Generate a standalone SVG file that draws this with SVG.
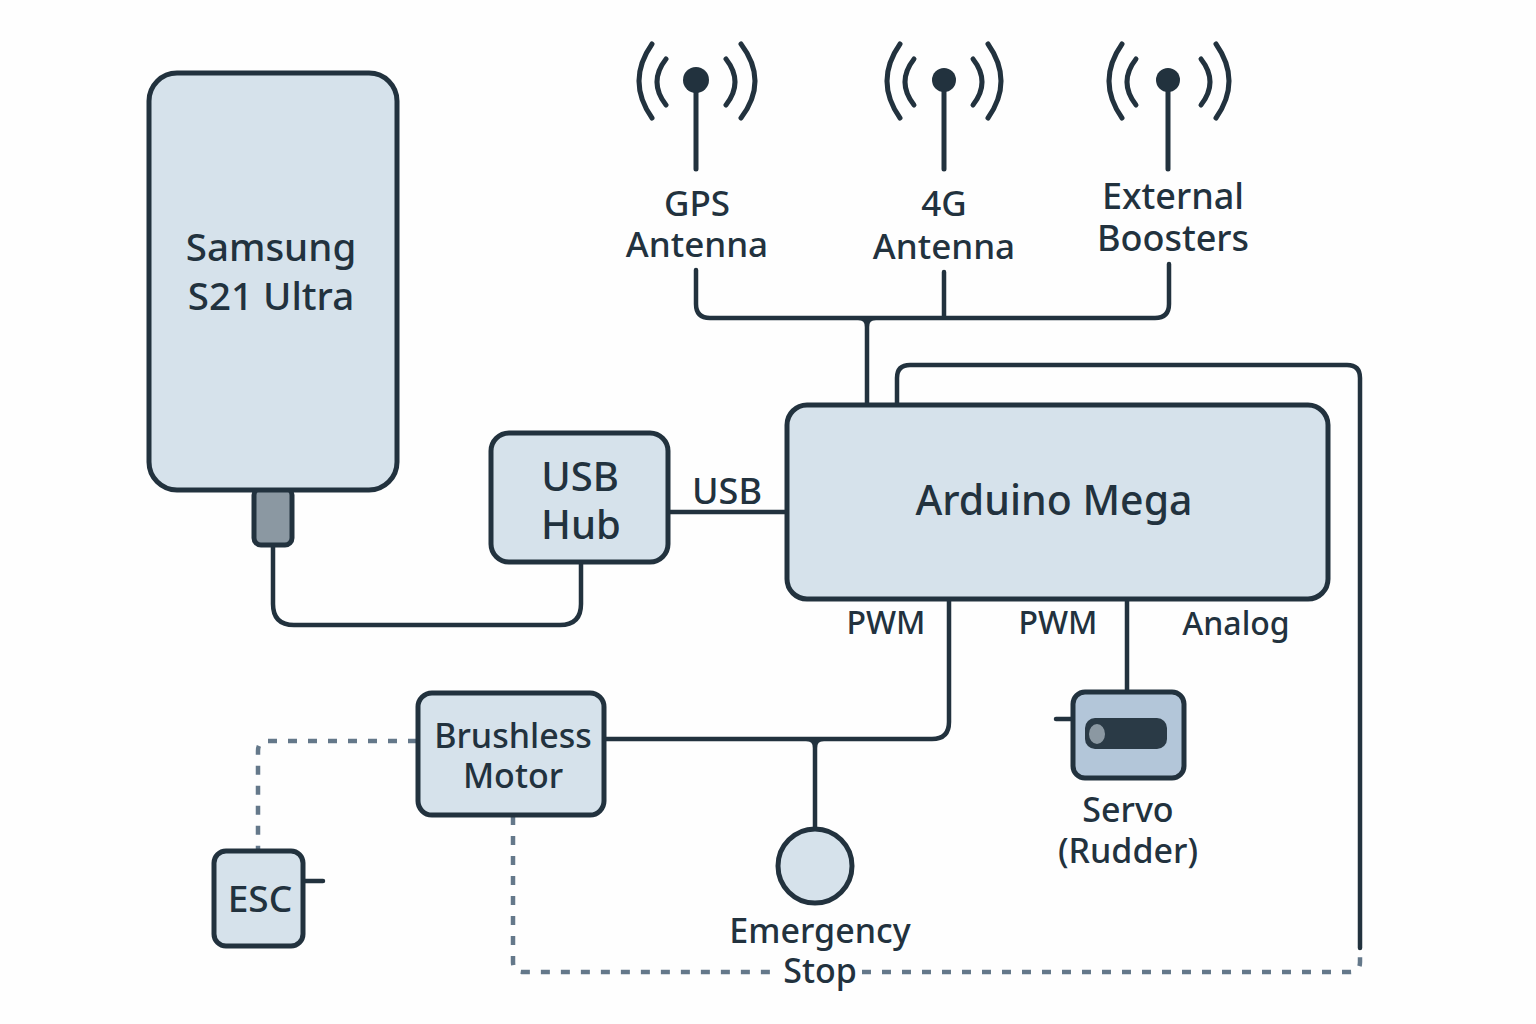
<svg xmlns="http://www.w3.org/2000/svg" width="1536" height="1024" viewBox="0 0 1536 1024">
<style>
.box{fill:#d6e2eb;stroke:#22323e;stroke-width:5}
.w{fill:none;stroke:#22323e;stroke-width:4.5;stroke-linecap:round;stroke-linejoin:round}
.f{fill:#22323e}
.a{fill:none;stroke:#22323e;stroke-width:5;stroke-linecap:round}
.d{fill:none;stroke:#64788a;stroke-width:4.5;stroke-dasharray:9 11}
text{font-family:"Noto Sans","Open Sans",sans-serif;font-weight:500;fill:#22323e;text-anchor:middle}
.l{font-size:35px}.m{font-size:34px}.s{font-size:32px}.b{font-size:38.5px}.h{font-size:40px}
</style>
<rect width="1536" height="1024" fill="#fefefe"/>
<g id="connectors">
<path class="w" d="M696 270V304Q696 318 710 318H1155Q1169 318 1169 304V264M944 272V318M867 318V405"/>
<path class="f" d="M858 320Q865 320 865 327H869Q869 320 876 320V316H858Z"/>
<path class="w" d="M897 405V378Q897 365 910 365H1347Q1360 365 1360 378V948"/>
<path class="w" d="M273 546V604Q273 625 294 625H560Q581 625 581 604V562"/>
<path class="w" d="M668 512H787"/>
<path class="w" d="M949 600V722Q949 739 932 739H605M815 739V830M1127 600V692"/>
<path class="f" d="M806 741Q813 741 813 748H817Q817 741 824 741V737H806Z"/>
<path class="d" d="M513 816V962Q513 972 523 972H778M862 972H1350Q1360 972 1360 962V950"/>
<path class="d" d="M417 741H268Q258 741 258 751V851"/>
<path class="w" d="M304 881H323M1072 719H1056"/>
</g>
<g id="phone"><rect class="box" x="254" y="488" width="38" height="57" rx="7" style="fill:#8b98a2"/><rect class="box" x="149" y="73" width="248" height="417" rx="28"/><text class="b" x="271" y="261">Samsung</text><text class="b" x="271" y="310">S21 Ultra</text></g>
<g id="usb-hub"><rect class="box" x="491" y="433" width="177" height="129" rx="18"/><text class="h" x="580" y="491">USB</text><text class="h" x="581" y="539">Hub</text></g>
<g id="arduino"><rect class="box" x="787" y="405" width="541" height="194" rx="20"/><text x="1054" y="515" style="font-size:41px">Arduino Mega</text></g>
<g id="motor"><rect class="box" x="418" y="693" width="186" height="122" rx="14"/><text class="m" x="513" y="748">Brushless</text><text class="m" x="513" y="788">Motor</text></g>
<g id="esc"><rect class="box" x="214" y="851" width="89" height="95" rx="12"/><text x="260" y="912" style="font-size:37px">ESC</text></g>
<g id="stop"><circle class="box" cx="815" cy="866" r="37"/><text class="m" x="820" y="943">Emergency</text><text class="m" x="820" y="983">Stop</text></g>
<g id="servo"><rect class="box" x="1073" y="692" width="111" height="86" rx="12" style="fill:#b3c6d9"/><rect x="1085" y="718" width="82" height="31" rx="10" fill="#2a3a46"/><ellipse cx="1097" cy="734" rx="8" ry="10" fill="#8b98a2"/><text class="m" x="1128" y="822">Servo</text><text class="m" x="1128" y="863">(Rudder)</text></g>
<g id="gps"><path class="a" d="M696 80V169M652 44Q626 81 652 118M666 59Q648 82 666 105M741 44Q769 81 741 118M726 59Q744 82 726 105"/><circle cx="696" cy="80" r="13" class="f"/><text class="l" x="697" y="216">GPS</text><text class="l" x="697" y="257">Antenna</text></g>
<g id="ant-4g"><path class="a" d="M944 80V169M900 44Q874 81 900 118M914 59Q896 82 914 105M988 44Q1014 81 988 118M973 59Q991 82 973 105"/><circle cx="944" cy="80" r="12" class="f"/><text class="l" x="944" y="216">4G</text><text class="l" x="944" y="259">Antenna</text></g>
<g id="boosters"><path class="a" d="M1168 80V169M1122 44Q1096 81 1122 118M1136 59Q1118 82 1136 105M1216 44Q1242 81 1216 118M1201 59Q1219 82 1201 105"/><circle cx="1168" cy="80" r="12" class="f"/><text x="1173" y="209" style="font-size:36px">External</text><text x="1173" y="251" style="font-size:36px">Boosters</text></g>
<g id="labels"><text x="727" y="504" style="font-size:36px">USB</text><text class="s" x="886" y="634">PWM</text><text class="s" x="1058" y="634">PWM</text><text class="s" x="1236" y="635">Analog</text></g>
</svg>
